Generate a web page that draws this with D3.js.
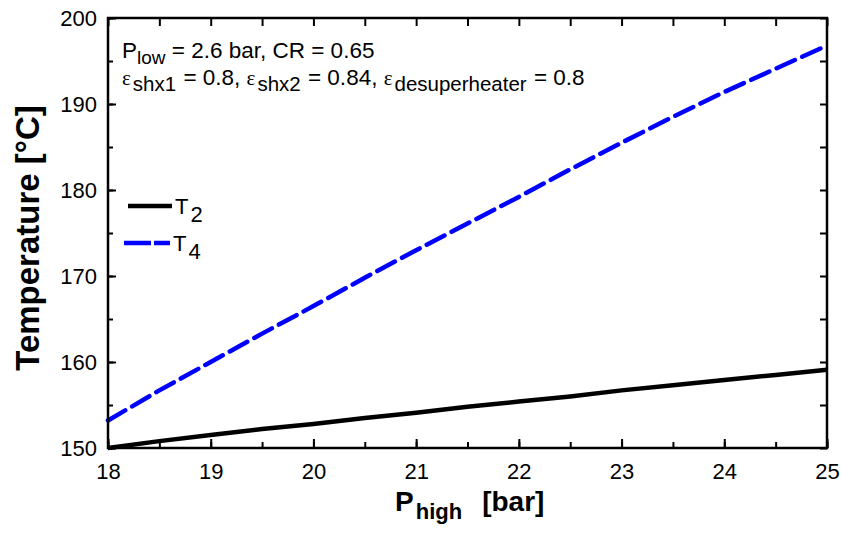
<!DOCTYPE html>
<html>
<head>
<meta charset="utf-8">
<script src="https://cdn.jsdelivr.net/npm/d3@7"></script>
<style>
  body { margin: 0; background: #fff; }
  text { font-family: Arial, "Liberation Sans", sans-serif; fill: #000; }
</style>
</head>
<body>
<script>
// P_high [bar]
const pHigh = [18, 18.5, 19, 19.5, 20, 20.5, 21, 21.5, 22, 22.5, 23, 23.5, 24, 24.5, 25];
// T2 and T4 [°C]
const t2 = [150.0, 150.8, 151.5, 152.2, 152.8, 153.5, 154.1, 154.8, 155.4, 156.0, 156.7, 157.3, 157.9, 158.5, 159.1];
const t4 = [153.2, 156.7, 160.0, 163.3, 166.5, 169.8, 173.0, 176.1, 179.2, 182.4, 185.5, 188.5, 191.4, 194.1, 196.8];
const xTicks = [18, 19, 20, 21, 22, 23, 24, 25];
const yTicks = [150, 160, 170, 180, 190, 200];

const options = {
    width: 841,
    height: 534,
    left: 108,
    right: 827,
    top: 18,
    bottom: 448
};

const x = d3.scaleLinear().domain([18, 25]).range([options.left, options.right]);
const y = d3.scaleLinear().domain([150, 200]).range([options.bottom, options.top]);

let svg = d3.select("body")
    .append("svg")
    .attr("width", options.width)
    .attr("height", options.height);

// lines
const line = d3.line()
    .x(d => x(d[0]))
    .y(d => y(d[1]));

svg.append("path")
    .datum(pHigh.map((p, i) => [p, t2[i]]))
    .attr("d", line)
    .attr("fill", "none")
    .attr("stroke", "#000")
    .attr("stroke-width", 4.5);

svg.append("path")
    .datum(pHigh.map((p, i) => [p, t4[i]]))
    .attr("d", line)
    .attr("fill", "none")
    .attr("stroke", "#0000ff")
    .attr("stroke-width", 4.5)
    .attr("stroke-linecap", "round")
    .attr("stroke-dasharray", "20,8");

// axes, ticks inward on all four sides
const minorX = d3.range(18, 25.01, 0.5);
const minorY = d3.range(150, 200.01, 5);

const bottomAxis = d3.axisBottom(x).tickValues(minorX)
    .tickSize(-6).tickFormat("");
const bottomMajor = d3.axisBottom(x).tickValues(xTicks)
    .tickSize(-9).tickPadding(15).tickFormat(d3.format("d"));
const topAxis = d3.axisTop(x).tickValues(minorX).tickSize(-8).tickFormat("");
const leftAxis = d3.axisLeft(y).tickValues(minorY).tickSize(-5).tickFormat("");
const leftMajor = d3.axisLeft(y).tickValues(yTicks)
    .tickSize(-8).tickPadding(11).tickFormat(d3.format("d"));
const rightAxis = d3.axisRight(y).tickValues(minorY).tickSize(-7).tickFormat("");

const axes = [
    [bottomAxis, `translate(0,${options.bottom})`],
    [bottomMajor, `translate(0,${options.bottom})`],
    [topAxis, `translate(0,${options.top})`],
    [leftAxis, `translate(${options.left},0)`],
    [leftMajor, `translate(${options.left},0)`],
    [rightAxis, `translate(${options.right},0)`]
];

axes.forEach(([ax, tr]) => {
    let g = svg.append("g").attr("transform", tr).call(ax);
    g.select(".domain").remove();
    g.selectAll(".tick line").attr("stroke", "#000").attr("stroke-width", 2);
    g.selectAll(".tick text")
        .style("font-family", "Arial, 'Liberation Sans', sans-serif")
        .style("font-size", "22px")
        .attr("fill", "#000");
});

svg.append("rect")
    .attr("x", options.left)
    .attr("y", options.top)
    .attr("width", options.right - options.left)
    .attr("height", options.bottom - options.top)
    .attr("fill", "none")
    .attr("stroke", "#000")
    .attr("stroke-width", 2.5);

// axis titles
svg.append("text")
    .attr("transform", `translate(39,238) rotate(-90)`)
    .attr("text-anchor", "middle")
    .style("font-size", "33px")
    .style("font-weight", "bold")
    .text("Temperature [°C]");

let xt = svg.append("text")
    .attr("x", 395)
    .attr("y", 511)
    .style("font-size", "28px")
    .style("font-weight", "bold");
xt.append("tspan").text("P");
xt.append("tspan").attr("dy", 8).attr("dx", 2).style("font-size", "22px").text("high");
xt.append("tspan").attr("dy", -8).attr("dx", 20).text("[bar]");

// annotation
let a1 = svg.append("text").attr("x", 122).attr("y", 58).style("font-size", "22.5px");
a1.append("tspan").text("P");
a1.append("tspan").attr("dy", 6).style("font-size", "19px").text("low");
a1.append("tspan").attr("dy", -6).text(" = 2.6 bar, CR = 0.65");

const effs = [["shx1", "0.8"], ["shx2", "0.84"], ["desuperheater", "0.8"]];
let a2 = svg.append("text").attr("x", 122).attr("y", 85).style("font-size", "22.5px");
effs.forEach((e, i) => {
    a2.append("tspan")
        .style("font-family", "'Liberation Serif', 'DejaVu Serif', serif")
        .style("font-size", "21px")
        .text("ε");
    a2.append("tspan").attr("dy", 6).attr("dx", 2).style("font-size", "20.5px").text(e[0]);
    a2.append("tspan").attr("dy", -6).attr("dx", 1).text(" = " + e[1] + (i < effs.length - 1 ? ", " : ""));
});

// legend
const legend = [
    { name: "2", color: "#000", dash: null, y: 206, x0: 128, x1: 172 },
    { name: "4", color: "#0000ff", dash: "27,3", y: 243, x0: 124, x1: 170 }
];

legend.forEach(l => {
    svg.append("line")
        .attr("x1", l.x0).attr("x2", l.x1)
        .attr("y1", l.y).attr("y2", l.y)
        .attr("stroke", l.color)
        .attr("stroke-width", 4.5)
        .attr("stroke-dasharray", l.dash);
    let t = svg.append("text").attr("x", l.x1 + 3).attr("y", l.y + 8).style("font-size", "22px");
    t.append("tspan").text("T");
    t.append("tspan").attr("dy", 8).attr("dx", 2).text(l.name);
});
</script>
</body>
</html>
